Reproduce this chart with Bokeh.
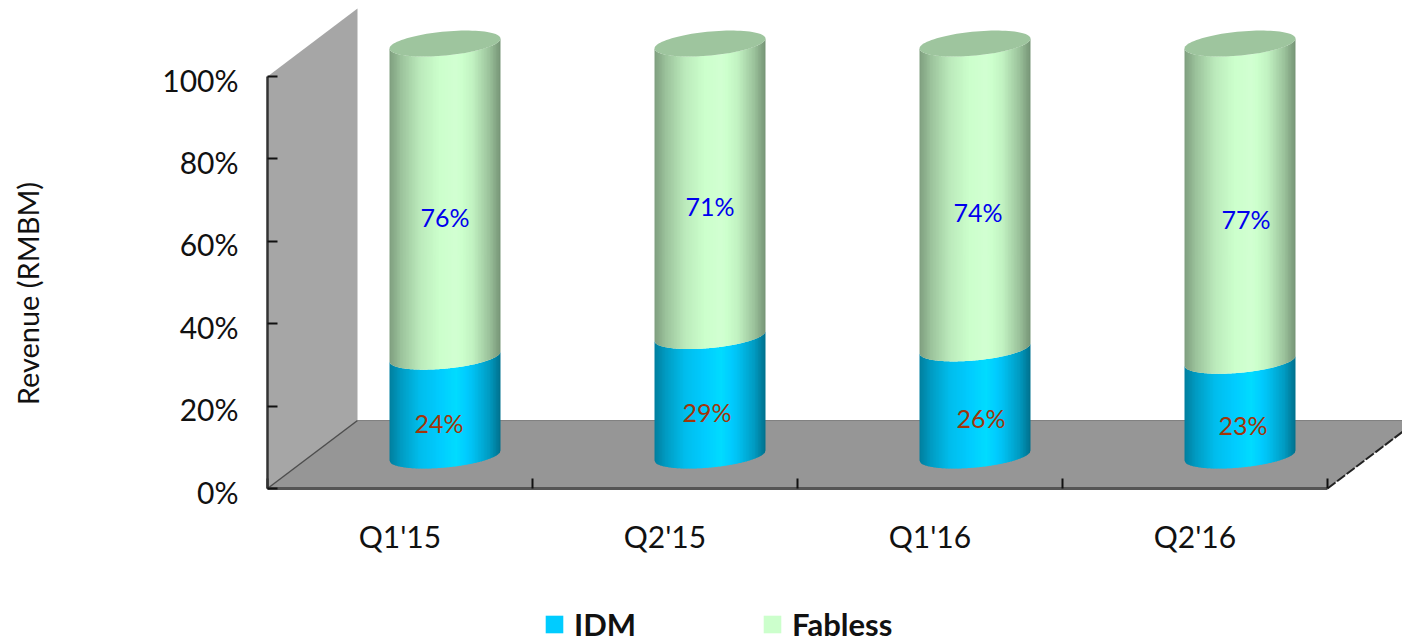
import numpy as np
from bokeh.embed import file_html
from bokeh.models import FixedTicker, Legend, LegendItem, ColumnDataSource
from bokeh.plotting import figure
from bokeh.resources import INLINE
from bokeh.core.properties import value

# Shipment shares per quarter
quarters = ["Q1'15", "Q2'15", "Q1'16", "Q2'16"]
idm = [24, 29, 26, 23]
fabless = [76, 71, 74, 77]
value_ticks = [0, 20, 40, 60, 80, 100]
idm_label_nudge = [-6, -3, 6, 3]
fabless_label_nudge = [0, 0, 3, 6]

FONT = "Lato"
IDM_COLOR = (0, 204, 255)
FABLESS_COLOR = (204, 255, 204)
TOP_COLOR = "#9EC59E"
WALL_COLOR = "#A6A6A6"
FLOOR_COLOR = "#969696"

# Scale of the canvas: one category is 265 px, one percent is 4.12 px
PX_X, PX_Y = 265.0, 4.12
X_MIN, X_MAX = -0.5 - 267 / PX_X, -0.5 + 1135 / PX_X
Y_MIN, Y_MAX = -155 / PX_Y, 488 / PX_Y

# Oblique projection of the 3D box
DEPTH_X, DEPTH_Y = 90 / PX_X, 16.5
SHIFT_X, SHIFT_Y = 45 / PX_X, 8.0
RADIUS_X = 55.5 / PX_X
RADIUS_Y = 12 / PX_Y
TILT = 5 / PX_Y

p = figure(width=1402, height=643, output_backend="svg", toolbar_location=None,
           x_range=(X_MIN, X_MAX), y_range=(Y_MIN, Y_MAX), min_border=0,
           background_fill_color="white", border_fill_color="white", outline_line_color=None)
p.grid.visible = False

# Back wall and floor
left, back, right = -0.5, -0.5 + DEPTH_X, len(quarters) - 0.5
p.patch([left, back, back, left], [0, DEPTH_Y, 100 + DEPTH_Y, 100],
        fill_color=WALL_COLOR, line_color=None)
p.patch([left, back, right + DEPTH_X, right], [0, DEPTH_Y, DEPTH_Y, 0],
        fill_color=FLOOR_COLOR, line_color=None)
p.line([back, X_MAX], [DEPTH_Y, DEPTH_Y], line_color="#808080", line_width=1)
p.line([left, back], [0, DEPTH_Y], line_color="#4d4d4d", line_width=1.5)
p.line([right, right + DEPTH_X], [0, DEPTH_Y], line_color="#222222", line_width=2, line_dash="10 2")

# Brightness across the cylinder, from the left rim to the right rim
SHADE_U = [-1.0, -0.8, -0.45, -0.1, 0.2, 0.5, 0.8, 1.0]
GREEN_SHADE = [0.62, 0.76, 0.92, 1.0, 1.03, 0.95, 0.76, 0.58]
BLUE_SHADE = [0.62, 0.76, 0.93, 1.0, 1.08, 0.95, 0.76, 0.55]


def shaded(rgb, factor):
    return "#%02x%02x%02x" % tuple(int(min(255, c * factor)) for c in rgb)


def front_curve(u, level):
    return SHIFT_Y + level + TILT * u - RADIUS_Y * np.sqrt(np.clip(1 - u * u, 0, 1))


edges = np.linspace(-1, 1, 75)
for i, (low, high) in enumerate(zip(idm, fabless)):
    cx = i + SHIFT_X
    segments = [(0, low, IDM_COLOR, BLUE_SHADE), (low, low + high, FABLESS_COLOR, GREEN_SHADE)]
    for start, stop, rgb, shade in segments:
        xs, ys, colors = [], [], []
        for u0, u1 in zip(edges[:-1], edges[1:]):
            reach = min(u1 + 0.012, 1.0)
            us = np.linspace(u0, reach, 3)
            xs.append(list(cx + RADIUS_X * us) + list(cx + RADIUS_X * us[::-1]))
            ys.append(list(front_curve(us, start)) + list(front_curve(us[::-1], stop)))
            colors.append(shaded(rgb, np.interp((u0 + u1) / 2, SHADE_U, shade)))
        p.patches(xs, ys, fill_color=colors, line_color=None)
    t = np.linspace(0, 2 * np.pi, 90)
    p.patch(cx + RADIUS_X * np.cos(t),
            SHIFT_Y + low + high + TILT * np.cos(t) + RADIUS_Y * np.sin(t),
            fill_color=TOP_COLOR, line_color=None)


# Value labels, each centred on its own segment
def add_labels(levels, texts, nudges, color):
    src = ColumnDataSource(dict(x=[i + SHIFT_X for i in range(len(texts))], y=levels,
                                text=texts, dx=nudges))
    p.text("x", "y", text="text", x_offset="dx", source=src, text_color=color,
           text_font=value(FONT), text_font_size="25px", text_align="center",
           text_baseline="middle")


add_labels([v / 2 + 4 for v in idm], [f"{v}%" for v in idm], idm_label_nudge, "#A0360A")
add_labels([a + b / 2 + 4 for a, b in zip(idm, fabless)], [f"{v}%" for v in fabless],
           fabless_label_nudge, "#0000EE")

# Axes sit on the front edges of the box
xa, ya = p.xaxis[0], p.yaxis[0]
xa.fixed_location = 0
ya.fixed_location = left
xa.bounds = (left, right)
ya.bounds = (0, 100)
xa.ticker = FixedTicker(ticks=list(range(len(quarters))),
                        minor_ticks=[k - 0.5 for k in range(len(quarters) + 1)])
xa.major_label_overrides = dict(enumerate(quarters))
xa.major_tick_line_color = None
xa.major_tick_in = xa.major_tick_out = 0
xa.minor_tick_in, xa.minor_tick_out = 10, 0
xa.minor_tick_line_color = "#111111"
xa.minor_tick_line_width = 2
xa.major_label_standoff = 29
xa.axis_line_color = "#555555"
xa.axis_line_width = 3
xa.major_label_text_font = FONT
xa.major_label_text_font_size = "30px"
xa.major_label_text_color = "#111111"

# The value axis draws tick marks only; its labels are set just below
ya.ticker = FixedTicker(ticks=[], minor_ticks=value_ticks)
ya.minor_tick_in, ya.minor_tick_out = 10, 0
ya.minor_tick_line_color = "#111111"
ya.minor_tick_line_width = 2
ya.axis_line_color = "#333333"
ya.axis_line_width = 2.5

# Percent labels beside the value axis
tick_src = ColumnDataSource(dict(x=[left] * len(value_ticks), y=value_ticks,
                                 text=[f"{v}%" for v in value_ticks]))
p.text("x", "y", text="text", source=tick_src, x_offset=-29, y_offset=3, text_align="right",
       text_baseline="middle", text_color="#111111", text_font=value(FONT), text_font_size="30px")

# Value axis title
p.text([X_MIN + 27 / PX_X], [47.3], text=["Revenue (RMBM)"], angle=np.pi / 2, text_align="center",
       text_baseline="middle", text_color="#111111", text_font=value(FONT), text_font_size="29px")

# Legend swatches; the quads lie beyond the canvas so only their keys show
off_canvas = X_MAX + 1
idm_key = p.quad(left=[off_canvas], right=[off_canvas], top=[0], bottom=[0],
                 fill_color=shaded(IDM_COLOR, 1), line_color=None)
fab_key = p.quad(left=[off_canvas], right=[off_canvas], top=[0], bottom=[0],
                 fill_color=shaded(FABLESS_COLOR, 1), line_color=None)
legend = Legend(items=[LegendItem(label="IDM", renderers=[idm_key]),
                       LegendItem(label="Fabless", renderers=[fab_key])],
                orientation="horizontal", location=(543, 0), padding=0, margin=0,
                spacing=125, glyph_width=22, glyph_height=22, label_standoff=9,
                label_text_font=FONT, label_text_font_size="31px", label_text_font_style="bold",
                label_text_color="#111111", background_fill_alpha=0, border_line_color=None)
p.add_layout(legend)

open("out.html", "w").write(file_html(p, INLINE))
